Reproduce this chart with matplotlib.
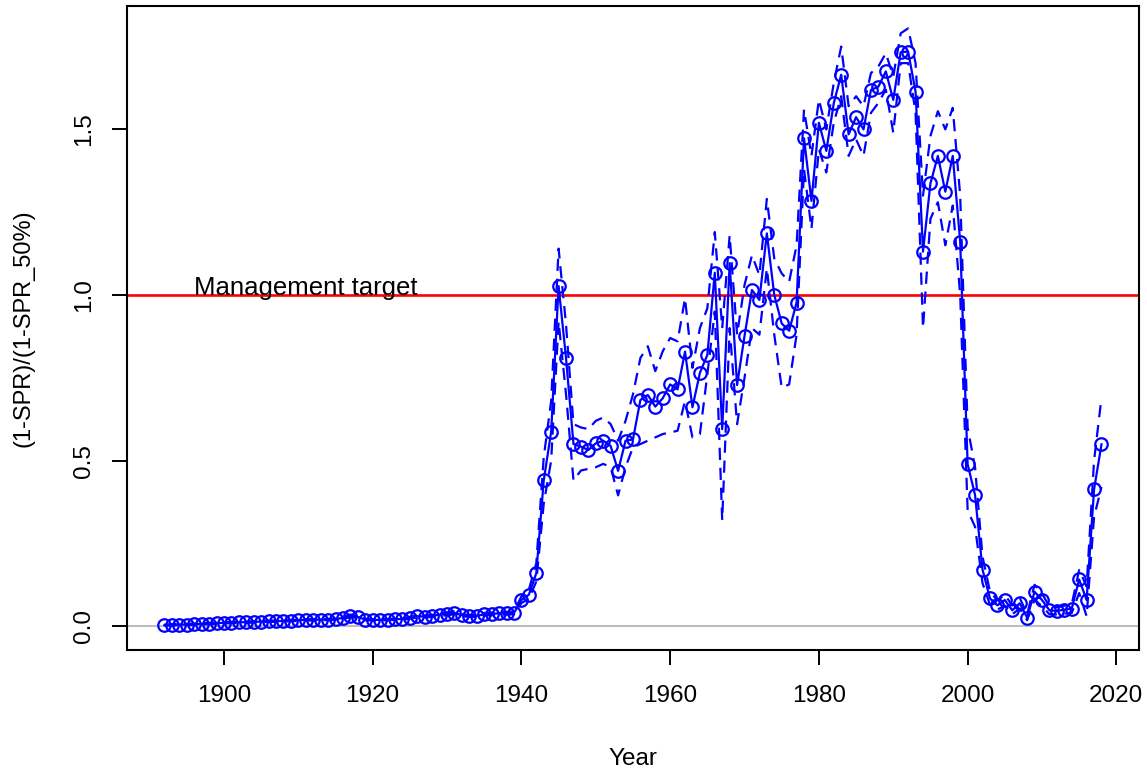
import matplotlib
matplotlib.use('Agg')
import matplotlib.pyplot as plt
import numpy as np

plt.rcParams['font.family'] = ['Liberation Sans', 'DejaVu Sans']

years = list(range(1892, 2019))

# (1-SPR)/(1-SPR_50%) point estimates
ratio = [
    0.003, 0.004, 0.005, 0.005, 0.006, 0.007, 0.008, 0.009,           # 1892-1899
    0.010, 0.011, 0.012, 0.012, 0.013, 0.014, 0.015, 0.015, 0.016, 0.017,  # 1900-1909
    0.018, 0.019, 0.019, 0.020, 0.020, 0.021, 0.025, 0.031, 0.028, 0.020,  # 1910-1919
    0.019, 0.019, 0.020, 0.021, 0.022, 0.025, 0.030, 0.029, 0.031, 0.035,  # 1920-1929
    0.037, 0.040, 0.033, 0.031, 0.031, 0.036, 0.037, 0.039, 0.039, 0.040,  # 1930-1939
    0.079, 0.095, 0.160, 0.440, 0.587, 1.027, 0.809, 0.550, 0.542, 0.532,  # 1940-1949
    0.552, 0.560, 0.544, 0.469, 0.560, 0.564, 0.683, 0.698, 0.663, 0.688,  # 1950-1959
    0.730, 0.715, 0.829, 0.661, 0.765, 0.819, 1.067, 0.595, 1.096, 0.728,  # 1960-1969
    0.876, 1.015, 0.985, 1.186, 1.000, 0.914, 0.892, 0.977, 1.473, 1.284,  # 1970-1979
    1.520, 1.435, 1.579, 1.665, 1.485, 1.537, 1.500, 1.619, 1.629, 1.675,  # 1980-1989
    1.589, 1.733, 1.735, 1.614, 1.131, 1.337, 1.420, 1.312, 1.420, 1.161,  # 1990-1999
    0.489, 0.396, 0.171, 0.084, 0.063, 0.079, 0.048, 0.069, 0.026, 0.104,  # 2000-2009
    0.079, 0.048, 0.046, 0.050, 0.053, 0.141, 0.079, 0.413, 0.549,         # 2010-2018
]

lower = [
    0.001, 0.002, 0.003, 0.003, 0.004, 0.005, 0.006, 0.007,
    0.008, 0.009, 0.010, 0.010, 0.011, 0.012, 0.013, 0.013, 0.014, 0.015,
    0.016, 0.017, 0.017, 0.018, 0.018, 0.019, 0.022, 0.027, 0.025, 0.018,
    0.017, 0.017, 0.018, 0.019, 0.020, 0.022, 0.027, 0.026, 0.028, 0.031,
    0.033, 0.036, 0.030, 0.028, 0.028, 0.032, 0.033, 0.035, 0.035, 0.036,
    0.070, 0.082, 0.135, 0.370, 0.500, 0.920, 0.700, 0.440, 0.470, 0.475,
    0.480, 0.490, 0.480, 0.395, 0.480, 0.540, 0.550, 0.560, 0.570, 0.580,
    0.585, 0.590, 0.680, 0.570, 0.580, 0.760, 0.950, 0.320, 0.900, 0.610,
    0.750, 0.900, 0.880, 1.080, 0.880, 0.720, 0.730, 0.880, 1.380, 1.200,
    1.440, 1.370, 1.520, 1.600, 1.420, 1.470, 1.420, 1.550, 1.580, 1.620,
    1.490, 1.700, 1.700, 1.550, 0.900, 1.230, 1.280, 1.150, 1.270, 1.000,
    0.350, 0.300, 0.130, 0.065, 0.050, 0.062, 0.036, 0.053, 0.018, 0.080,
    0.060, 0.036, 0.035, 0.038, 0.040, 0.100, 0.030, 0.330, 0.420,
]

upper = [
    0.005, 0.006, 0.007, 0.007, 0.008, 0.009, 0.010, 0.011,
    0.012, 0.013, 0.014, 0.014, 0.015, 0.016, 0.017, 0.017, 0.018, 0.019,
    0.020, 0.021, 0.021, 0.022, 0.022, 0.023, 0.028, 0.035, 0.031, 0.022,
    0.021, 0.021, 0.022, 0.023, 0.024, 0.028, 0.033, 0.032, 0.034, 0.039,
    0.041, 0.044, 0.036, 0.034, 0.034, 0.040, 0.041, 0.043, 0.043, 0.044,
    0.090, 0.110, 0.190, 0.510, 0.680, 1.140, 0.910, 0.610, 0.600, 0.595,
    0.620, 0.630, 0.610, 0.560, 0.620, 0.700, 0.810, 0.845, 0.770, 0.830,
    0.870, 0.860, 0.990, 0.780, 0.900, 0.960, 1.190, 0.900, 1.180, 0.880,
    1.030, 1.120, 1.060, 1.290, 1.110, 1.065, 1.040, 1.150, 1.560, 1.420,
    1.590, 1.500, 1.640, 1.750, 1.570, 1.600, 1.570, 1.670, 1.690, 1.730,
    1.660, 1.790, 1.805, 1.700, 1.300, 1.480, 1.555, 1.500, 1.565, 1.300,
    0.600, 0.480, 0.210, 0.105, 0.078, 0.095, 0.062, 0.086, 0.036, 0.125,
    0.098, 0.060, 0.058, 0.062, 0.066, 0.170, 0.120, 0.500, 0.690,
]

target = 1.0
FS = 17.5

fig = plt.figure(figsize=(11.47, 7.72), dpi=100)
ax = fig.add_axes([0.1107, 0.158, 0.8823, 0.834])

ax.axhline(0, color='#BEBEBE', lw=1.5, zorder=1)
ax.axhline(target, color='#FF0000', lw=1.9, zorder=1)

ax.plot(years, ratio, color='#0000FF', lw=1.6, marker='o', ms=9,
        mfc='none', mec='#0000FF', mew=1.6, zorder=3)
ax.plot(years, lower, color='#0000FF', lw=1.6, ls=(0, (5.5, 3.5)), zorder=2)
ax.plot(years, upper, color='#0000FF', lw=1.6, ls=(0, (5.5, 3.5)), zorder=2)

# label baseline sits on the target line
ax.text(1911, 1.0, 'Management target', fontsize=18.5, ha='center', va='baseline')

ax.set_xlim(1886.96, 2023.04)
ax.set_ylim(-0.072, 1.872)
ax.set_xticks([1900, 1920, 1940, 1960, 1980, 2000, 2020])
ax.set_yticks([0.0, 0.5, 1.0, 1.5])
ax.set_yticklabels(['0.0', '0.5', '1.0', '1.5'], rotation=90, va='center')
ax.tick_params(axis='both', direction='out', length=11, width=1.4,
               labelsize=FS, pad=14)
ax.tick_params(axis='y', pad=12)

ax.set_xlabel('Year', fontsize=FS, labelpad=30)
ax.set_ylabel('(1-SPR)/(1-SPR_50%)', fontsize=17, labelpad=28)

for s in ax.spines.values():
    s.set_linewidth(1.5)

fig.savefig('out.png', dpi=100)
